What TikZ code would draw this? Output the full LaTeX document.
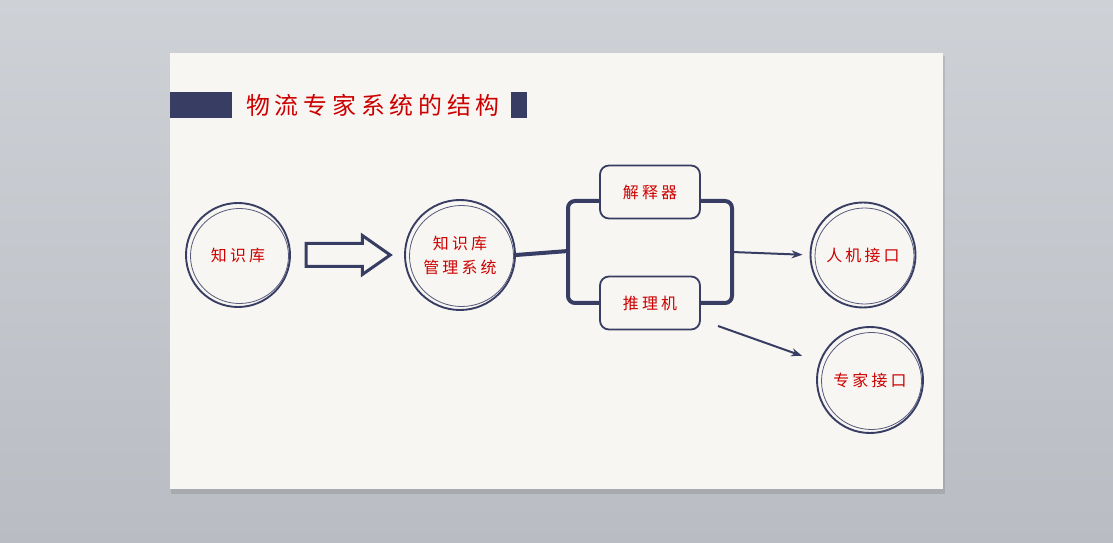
\documentclass[tikz,border=0pt]{standalone}
\usepackage{fontspec}
\usepackage{tikz}
\usetikzlibrary{
  arrows.meta,
  positioning,
  shapes.arrows,
  calc,
}
\newfontfamily\handcjk[LetterSpace=20]{Noto Sans CJK SC}
\definecolor{ink}{HTML}{383D63}
\definecolor{redpen}{HTML}{CC0000}
\definecolor{paper}{HTML}{F8F6F2}
\definecolor{deskTop}{HTML}{CED1D6}
\definecolor{deskBot}{HTML}{B9BDC3}
\tikzset{
  sketchcircle/.style={
    circle, draw=ink, line width=1.9bp, inner sep=0pt, minimum size=#1,
    align=center, text=redpen, font=\handcjk\fontsize{16}{24}\selectfont,
  },
  innerRing/.style={draw=ink!85, line width=0.8bp},
  modulebox/.style={
    rectangle, rounded corners=9bp, draw=ink, line width=1.8bp, fill=paper,
    minimum width=100bp, minimum height=53bp,
    text=redpen, font=\handcjk\fontsize{16}{24}\selectfont,
  },
  titlebar/.style={rectangle, fill=ink, inner sep=0pt, minimum height=26bp},
  bracketLine/.style={line width=4bp, draw=ink, rounded corners=7bp},
  arrowThin/.style={
    -{Stealth[length=11bp,width=8bp]}, line width=2bp, draw=ink,
  },
}

\begin{document}
\begin{tikzpicture}[x=1bp,y=-1bp]

% desk and slide
\fill[top color=deskTop, bottom color=deskBot] (0,0) rectangle (1113,543);
\fill[black, opacity=0.10] (171,56) rectangle (945,494);
\fill[paper] (170,53) rectangle (943,489);

% title
\node[titlebar, minimum width=62bp] (barL) at (201,105) {};
\node[titlebar, minimum width=16bp] (barR) at (519,105) {};
\node[text=redpen, font=\handcjk\fontsize{24}{28}\selectfont] (title) at (373,105) {物流专家系统的结构};

% circles and boxes
\node[sketchcircle=104bp] (kb) at (238,255) {知识库};
\node[sketchcircle=110bp] (kbms) at (460,255) {知识库\\管理系统};
\node[modulebox] (interp) at (650,192) {解释器};
\node[modulebox] (infer) at (650,303) {推理机};
\node[sketchcircle=105bp] (hmi) at (863,255) {人机接口};
\node[sketchcircle=106bp] (expert) at (870,380) {专家接口};

\foreach \n/\r in {kb/49, kbms/52, hmi/49.5, expert/50}
  \draw[innerRing] ($(\n.center)+(1.5,1)$) ellipse [x radius=\r, y radius=\r-1.5];

% block arrow
\node[single arrow, draw=ink, line width=3bp, fill=paper,
      minimum height=84bp, inner xsep=0pt, inner ysep=10bp,
      single arrow head extend=8bp, single arrow tip angle=70]
      (feed) at (340,255) {};

% brackets and links
\coordinate (split) at (568,251);
\coordinate (join) at (732,252);
\coordinate (tail) at (718,326);
\draw[line width=4bp, draw=ink] (kbms.east) -- (split);
\draw[bracketLine] ($(interp.west)+(0,9)$) -| (split) |- (infer.west);
\draw[bracketLine] ($(interp.east)+(0,9)$) -| (join) |- (infer.east);
\draw[arrowThin, shorten >=7bp] (join) -- (hmi.west);
\draw[arrowThin, shorten >=18bp] (tail) -- (expert);

\end{tikzpicture}
\end{document}
